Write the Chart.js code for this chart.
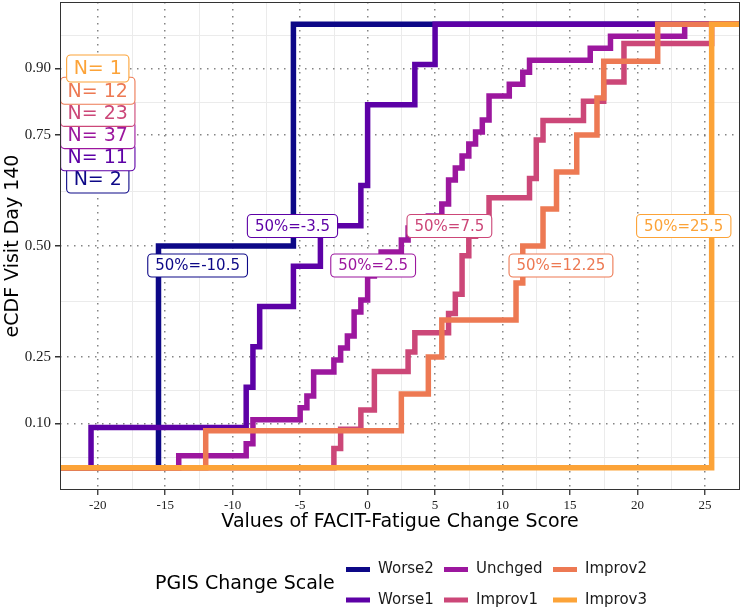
<!DOCTYPE html>
<html>
<head>
<meta charset="utf-8">
<script src="https://cdn.jsdelivr.net/npm/chart.js@4.4.1/dist/chart.umd.min.js"></script>
<style>
  html, body { margin: 0; padding: 0; background: #fff; }
  canvas { display: block; }
</style>
</head>
<body>
<canvas id="ecdfChart" width="744" height="609"></canvas>
<script>
// PGIS groups, in legend / draw order
const groups = ['Worse2', 'Worse1', 'Unchged', 'Improv1', 'Improv2', 'Improv3'];

// FACIT-Fatigue change scores per group
const worse2 = [-15.5, -5.5];
const worse1 = [-20.5, -9, -8.5, -8, -5.5, -3.5, -0.5, 0, 0, 3.5, 5];
const unchged = [-14, -9, -8.5, -8.5, -5, -4.5, -4, -4, -2.5, -2, -1.5, -1, -1, -0.5, 0, 0,
  0.5, 1, 2.5, 3, 4.5, 5.5, 6, 6, 6.5, 7, 7.5, 8, 8.5, 9, 9, 10.5, 11.5, 12, 16.5, 18, 23.5];
const improv1 = [-2.5, -2, -0.5, 0.5, 0.5, 3, 3.5, 6, 6.5, 7, 7, 7.5, 8, 9, 12, 12.5, 12.5,
  13, 16, 17.5, 19, 19, 25.5];
const improv2 = [-12, 2.5, 4.5, 5.5, 11, 11.5, 13, 14, 15.5, 17, 17.5, 21.5];
const improv3 = [25.5];

const medians = [-10.5, -3.5, 2.5, 7.5, 12.25, 25.5];

const xTicks = [-20, -15, -10, -5, 0, 5, 10, 15, 20, 25];
const yTicks = [0.10, 0.25, 0.50, 0.75, 0.90];
const xMinor = [-17.5, -12.5, -7.5, -2.5, 2.5, 7.5, 12.5, 17.5, 22.5];
const yMinor = [0.025, 0.175, 0.375, 0.625, 0.825, 0.975];

// --- styling / placement ---
const colors = ['#0D0887', '#5D01A6', '#9C179E', '#CC4778', '#ED7953', '#FCA338'];
const X_MIN = -22.8, X_MAX = 27.6;
const Y_MIN = -0.05, Y_MAX = 1.05;
const SANS = '"DejaVu Sans", sans-serif';
const SERIF = '"Liberation Serif", serif';

// where the annotation boxes sit (data units)
const nSpotX = -20;
const nSpotY = [0.65, 0.70, 0.75, 0.80, 0.85, 0.90];
const medSpotX = [-12.6, -5.57, 0.41, 6.06, 14.33, 23.43];
const medSpotY = [0.456, 0.545, 0.456, 0.545, 0.456, 0.545];

const seriesValues = [worse2, worse1, unchged, improv1, improv2, improv3];

function ecdfPoints(values) {
  const s = [...values].sort((a, b) => a - b);
  const pts = [{ x: X_MIN, y: 0 }];
  s.forEach((v, i) => pts.push({ x: v, y: (i + 1) / s.length }));
  pts.push({ x: X_MAX, y: 1 });
  return pts;
}

function roundBox(ctx, x, y, w, h, r) {
  ctx.beginPath();
  ctx.moveTo(x + r, y);
  ctx.arcTo(x + w, y, x + w, y + h, r);
  ctx.arcTo(x + w, y + h, x, y + h, r);
  ctx.arcTo(x, y + h, x, y, r);
  ctx.arcTo(x, y, x + w, y, r);
  ctx.closePath();
}

function drawTag(ctx, text, cx, cy, color, fontPx, padX, h) {
  ctx.save();
  ctx.font = fontPx + 'px ' + SANS;
  const w = ctx.measureText(text).width + padX * 2;
  roundBox(ctx, cx - w / 2, cy - h / 2, w, h, 4);
  ctx.fillStyle = '#fff';
  ctx.fill();
  ctx.lineWidth = 1.1;
  ctx.strokeStyle = color;
  ctx.stroke();
  ctx.fillStyle = color;
  ctx.textAlign = 'center';
  ctx.textBaseline = 'middle';
  ctx.fillText(text, cx, cy + 1);
  ctx.restore();
}

const panelPlugin = {
  id: 'panel',
  beforeDraw(chart) {
    const { ctx, chartArea: a, scales: { x, y } } = chart;
    ctx.save();
    ctx.fillStyle = '#fff';
    ctx.fillRect(0, 0, chart.width, chart.height);
    ctx.strokeStyle = '#EBEBEB';
    ctx.lineWidth = 1;
    xMinor.forEach(v => {
      const px = Math.round(x.getPixelForValue(v)) + 0.5;
      ctx.beginPath(); ctx.moveTo(px, a.top); ctx.lineTo(px, a.bottom); ctx.stroke();
    });
    yMinor.forEach(v => {
      const py = Math.round(y.getPixelForValue(v)) + 0.5;
      ctx.beginPath(); ctx.moveTo(a.left, py); ctx.lineTo(a.right, py); ctx.stroke();
    });
    ctx.restore();
  },
  afterDatasetsDraw(chart) {
    const { ctx, chartArea: a, scales: { x, y } } = chart;
    // median labels
    groups.forEach((g, i) => {
      drawTag(ctx, '50%=' + medians[i], x.getPixelForValue(medSpotX[i]),
        y.getPixelForValue(medSpotY[i]), colors[i], 15, 7.5, 23);
    });
    // N labels
    groups.forEach((g, i) => {
      drawTag(ctx, 'N= ' + seriesValues[i].length, x.getPixelForValue(nSpotX),
        y.getPixelForValue(nSpotY[i]), colors[i], 19, 7, 27);
    });
    ctx.save();
    ctx.strokeStyle = '#333';
    ctx.lineWidth = 1;
    ctx.strokeRect(a.left + 0.5, a.top + 0.5, a.right - a.left - 1, a.bottom - a.top - 1);
    ctx.restore();
  },
  afterDraw(chart) {
    const ctx = chart.ctx;
    ctx.save();
    ctx.fillStyle = '#000';
    ctx.textBaseline = 'middle';
    ctx.font = '19px ' + SANS;
    ctx.fillText('PGIS Change Scale', 155, 584.5);
    const colX = [346, 444, 553];
    const rowY = [569.5, 600];
    ctx.font = '15px ' + SANS;
    groups.forEach((g, i) => {
      const kx = colX[Math.floor(i / 2)];
      const ky = rowY[i % 2];
      ctx.fillStyle = colors[i];
      ctx.fillRect(kx, ky - 2.5, 24, 5);
      ctx.fillStyle = '#1a1a1a';
      ctx.fillText(g, kx + 32, ky);
    });
    ctx.restore();
  }
};

const datasets = groups.map((g, i) => ({
  label: g,
  data: ecdfPoints(seriesValues[i]),
  borderColor: colors[i],
  backgroundColor: colors[i],
  borderWidth: 5.5,
  stepped: 'before',
  fill: false,
  pointRadius: 0,
  borderJoinStyle: 'miter',
  borderCapStyle: 'butt',
  order: groups.length - 1 - i
}));

const dotGrid = {
  color: 'rgba(110,110,110,0.85)',
  lineWidth: 1.5,
  drawTicks: true,
  tickLength: 5,
  tickColor: '#333',
  tickWidth: 1.3,
  tickBorderDash: [1, 0]
};

new Chart(document.getElementById('ecdfChart').getContext('2d'), {
  type: 'line',
  data: { datasets },
  plugins: [panelPlugin],
  options: {
    responsive: false,
    animation: false,
    layout: { padding: { top: 2, right: 4, left: 0, bottom: 0 } },
    plugins: { legend: { display: false }, tooltip: { enabled: false } },
    scales: {
      x: {
        type: 'linear',
        min: X_MIN,
        max: X_MAX,
        afterBuildTicks: s => { s.ticks = xTicks.map(v => ({ value: v })); },
        afterFit: s => { s.height = 119; s.paddingLeft = 0; s.paddingRight = 0; },
        grid: dotGrid,
        border: { display: false, dash: [1.5, 5.5] },
        ticks: {
          font: { family: SERIF, size: 13 },
          color: '#222',
          padding: 3,
          maxRotation: 0,
          callback: v => String(v)
        },
        title: {
          display: true,
          text: 'Values of FACIT-Fatigue Change Score',
          font: { family: SANS, size: 19 },
          color: '#000',
          padding: { top: 0, bottom: 76 }
        }
      },
      y: {
        type: 'linear',
        min: Y_MIN,
        max: Y_MAX,
        afterBuildTicks: s => { s.ticks = yTicks.map(v => ({ value: v })); },
        afterFit: s => { s.width = 60; s.paddingTop = 0; s.paddingBottom = 0; },
        grid: dotGrid,
        border: { display: false, dash: [1.5, 5.5] },
        ticks: {
          font: { family: SERIF, size: 15 },
          color: '#222',
          padding: 4,
          callback: v => v.toFixed(2)
        },
        title: {
          display: true,
          text: 'eCDF Visit Day 140',
          font: { family: SANS, size: 19 },
          color: '#000',
          padding: { top: 1.5, bottom: 0 }
        }
      }
    }
  }
});
</script>
</body>
</html>
